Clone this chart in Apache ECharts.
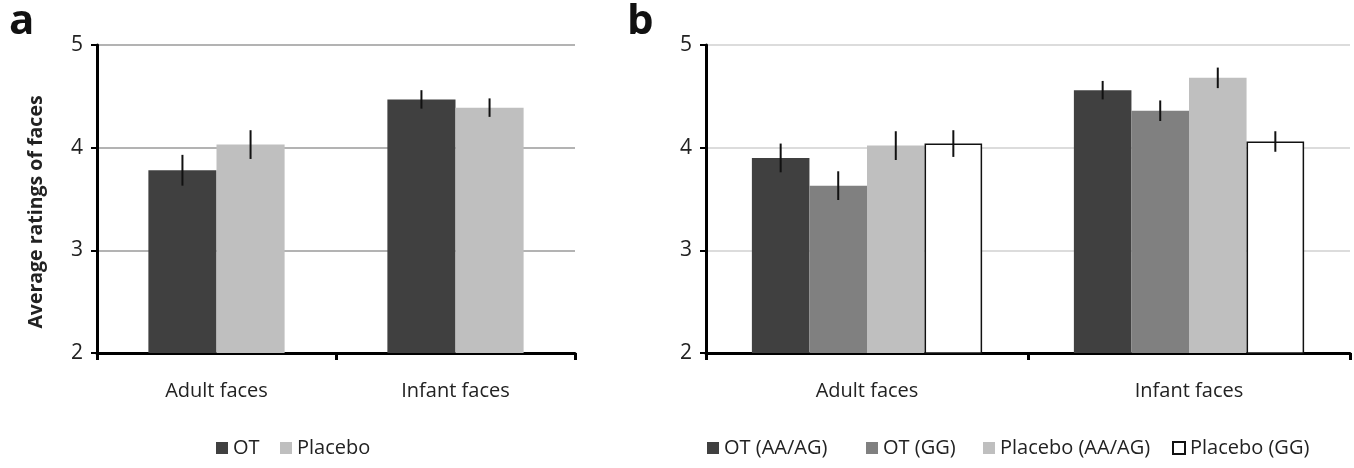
<!DOCTYPE html>
<html><head><meta charset="utf-8">
<script src="https://cdn.jsdelivr.net/npm/echarts@6/dist/echarts.min.js"></script>
<style>html,body{margin:0;padding:0;background:#fff}#c{width:1354px;height:468px}</style>
</head><body><div id="c"></div>
<script>
const categories = ['Adult faces', 'Infant faces'];
const yTicks = [2, 3, 4, 5];

// Panel a
const aNames = ['OT', 'Placebo'];
const aColors = ['#404040', '#bfbfbf'];
const aOT = [3.78, 4.47];
const aOTErr = [0.15, 0.09];
const aPlacebo = [4.03, 4.39];
const aPlaceboErr = [0.14, 0.09];

// Panel b
const bNames = ['OT (AA/AG)', 'OT (GG)', 'Placebo (AA/AG)', 'Placebo (GG)'];
const bColors = ['#404040', '#808080', '#bfbfbf', '#ffffff'];
const bOTAA = [3.90, 4.56];
const bOTAAErr = [0.14, 0.09];
const bOTGG = [3.63, 4.36];
const bOTGGErr = [0.14, 0.10];
const bPlAA = [4.02, 4.68];
const bPlAAErr = [0.14, 0.10];
const bPlGG = [4.04, 4.06];
const bPlGGErr = [0.13, 0.10];

const FONT = 'Open Sans';
const aVals = [aOT, aPlacebo], aErrs = [aOTErr, aPlaceboErr];
const bVals = [bOTAA, bOTGG, bPlAA, bPlGG], bErrs = [bOTAAErr, bOTGGErr, bPlAAErr, bPlGGErr];

function xAxisCfg(gi) {
  return {
    type: 'category', gridIndex: gi, data: categories,
    axisLine: { lineStyle: { color: '#000', width: 3 } },
    axisTick: { show: true, length: 7, lineStyle: { color: '#000', width: 3 } },
    axisLabel: { color: '#222', fontSize: 20, fontFamily: FONT, margin: 28 }
  };
}
function yAxisCfg(gi, gridColor) {
  return {
    type: 'value', gridIndex: gi, min: 2, max: 5, interval: 1,
    axisLine: { show: true, lineStyle: { color: '#000', width: 3 } },
    axisTick: { show: true, length: 6, lineStyle: { color: '#000', width: 2 } },
    axisLabel: { color: '#222', fontSize: 21, fontFamily: FONT, margin: 14,
      formatter: v => yTicks.includes(v) ? String(v) : '' },
    splitLine: { show: true, lineStyle: { color: gridColor, width: 1.5 } }
  };
}

const series = [];
function addPanel(gi, names, colors, vals, errs, gapPct) {
  names.forEach((nm, i) => {
    series.push({
      type: 'bar', name: nm, xAxisIndex: gi, yAxisIndex: gi,
      data: vals[i], barGap: '0%', barCategoryGap: gapPct + '%',
      itemStyle: nm === 'Placebo (GG)' ? { color: '#fff', borderColor: '#111', borderWidth: 1.5 } : { color: colors[i] },
      emphasis: { disabled: true }
    });
  });
  const n = names.length;
  names.forEach((nm, i) => {
    series.push({
      type: 'custom', name: nm + ' err', xAxisIndex: gi, yAxisIndex: gi, z: 10,
      data: vals[i].map((v, k) => [k, v, errs[i][k]]),
      encode: { x: 0, y: 1 },
      renderItem: (params, api) => {
        const k = api.value(0), v = api.value(1), e = api.value(2);
        const bw = api.size([1, 0])[0];
        const total = bw * (1 - gapPct / 100);
        const barW = total / n;
        const c = api.coord([k, v]);
        const x = c[0] - total / 2 + barW * (i + 0.5);
        const top = api.coord([k, v + e])[1], bot = api.coord([k, v - e])[1];
        return { type: 'line', shape: { x1: x, y1: top, x2: x, y2: bot },
          style: { stroke: '#111', lineWidth: 2 } };
      }
    });
  });
}
addPanel(0, aNames, aColors, aVals, aErrs, 43);
addPanel(1, bNames, bColors, bVals, bErrs, 28.5);

const legendLefts = { 'OT': 216, 'Placebo': 280, 'OT (AA/AG)': 707, 'OT (GG)': 866, 'Placebo (AA/AG)': 983, 'Placebo (GG)': 1172 };
const legends = aNames.concat(bNames).map(nm => ({
  data: [nm], left: legendLefts[nm], top: 438, padding: 0, itemWidth: 12, itemHeight: 12, icon: 'rect',
  textStyle: { fontSize: 20, color: '#222', fontFamily: FONT, padding: [0, 0, 0, 0] }
}));

const chart = echarts.init(document.getElementById('c'));
chart.setOption({
  animation: false,
  backgroundColor: '#fff',
  title: [
    { text: 'a', left: 9, top: 1, padding: 0, textStyle: { fontSize: 42, fontWeight: 'bold', color: '#111', fontFamily: FONT } },
    { text: 'b', left: 627, top: 1, padding: 0, textStyle: { fontSize: 42, fontWeight: 'bold', color: '#111', fontFamily: FONT } }
  ],
  grid: [
    { left: 97, right: 779, top: 45, bottom: 115 },
    { left: 706, right: 4, top: 45, bottom: 115 }
  ],
  xAxis: [xAxisCfg(0), xAxisCfg(1)],
  yAxis: [
    Object.assign(yAxisCfg(0, '#9a9a9a'), { name: 'Average ratings of faces', nameLocation: 'middle', nameGap: 51,
      nameTextStyle: { fontSize: 19.5, fontWeight: 'bold', color: '#222', fontFamily: FONT, padding: [0, 26, 0, 0] } }),
    yAxisCfg(1, '#d0d0d0')
  ],
  legend: legends,
  series: series
});
</script></body></html>
